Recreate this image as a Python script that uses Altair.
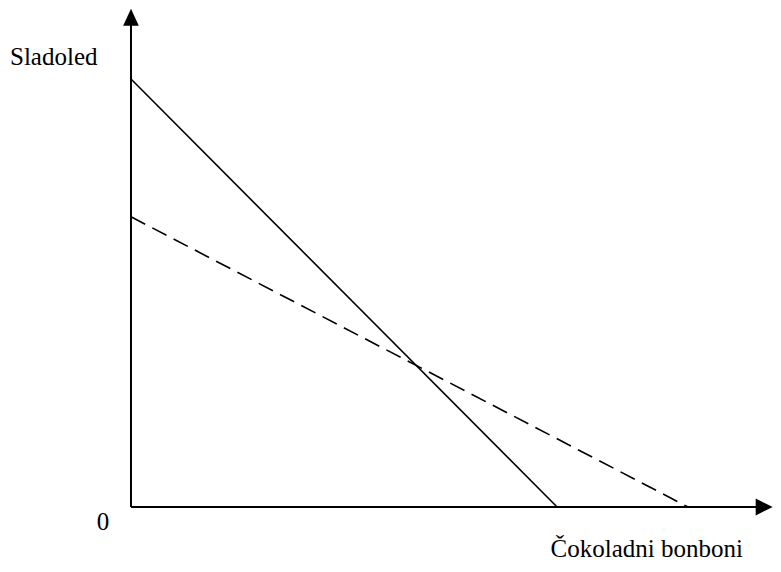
import altair as alt
import pandas as pd

# Budget lines (data units)
solid_x = [0.0, 7.65]
solid_y = [10.0, 0.0]
dashed_x = [0.0, 10.0]
dashed_y = [6.78, 0.0]

# Axis extents (arrow tips)
axis_x_end = 11.52
axis_y_end = 11.64

# Labels
label_text = ["Sladoled", "0", "Čokoladni bonboni"]
label_x = [-2.172, -0.503, 10.987]
label_y = [10.33, -0.537, -1.17]
label_align = ["left", "center", "right"]

FONT = "Liberation Serif"

xs = alt.Scale(domain=[-2.208, 11.526], nice=False, zero=False)
ys = alt.Scale(domain=[-1.332, 11.659], nice=False, zero=False)

solid_df = pd.DataFrame({"x": solid_x, "y": solid_y})
dashed_df = pd.DataFrame({"x": dashed_x, "y": dashed_y})

solid = alt.Chart(solid_df).mark_line(color="black", strokeWidth=1.6).encode(
    x=alt.X("x:Q", scale=xs, axis=None), y=alt.Y("y:Q", scale=ys, axis=None))
dashed = alt.Chart(dashed_df).mark_line(color="black", strokeWidth=1.6, strokeDash=[16, 8]).encode(
    x=alt.X("x:Q", scale=xs, axis=None), y=alt.Y("y:Q", scale=ys, axis=None))

xaxis_df = pd.DataFrame({"x": [0.0], "x2": [axis_x_end - 0.2], "y": [0.0]})
yaxis_df = pd.DataFrame({"x": [0.0], "y": [0.0], "y2": [axis_y_end - 0.2]})

xaxis = alt.Chart(xaxis_df).mark_rule(color="black", strokeWidth=2).encode(
    x=alt.X("x:Q", scale=xs, axis=None), x2="x2:Q", y=alt.Y("y:Q", scale=ys, axis=None))
yaxis = alt.Chart(yaxis_df).mark_rule(color="black", strokeWidth=2).encode(
    x=alt.X("x:Q", scale=xs, axis=None), y=alt.Y("y:Q", scale=ys, axis=None), y2="y2:Q")

xarrow = alt.Chart(pd.DataFrame({"x": [axis_x_end], "y": [0.0]})).mark_point(
    shape="M0,0L-1,-0.5L-1,0.5Z", size=1156, filled=True, color="black", opacity=1, strokeWidth=0
).encode(x=alt.X("x:Q", scale=xs, axis=None), y=alt.Y("y:Q", scale=ys, axis=None))
yarrow = alt.Chart(pd.DataFrame({"x": [0.0], "y": [axis_y_end]})).mark_point(
    shape="M0,0L-0.46,1L0.46,1Z", size=1156, filled=True, color="black", opacity=1, strokeWidth=0
).encode(x=alt.X("x:Q", scale=xs, axis=None), y=alt.Y("y:Q", scale=ys, axis=None))

labels_df = pd.DataFrame({"text": label_text, "x": label_x, "y": label_y, "align": label_align})
text_layers = []
for a in ["left", "center", "right"]:
    text_layers.append(
        alt.Chart(labels_df).transform_filter(alt.datum.align == a).mark_text(
            align=a, baseline="alphabetic", font=FONT, fontSize=25, color="black"
        ).encode(x=alt.X("x:Q", scale=xs, axis=None), y=alt.Y("y:Q", scale=ys, axis=None), text="text:N")
    )

chart = alt.layer(xaxis, yaxis, solid, dashed, xarrow, yarrow, *text_layers).properties(
    width=765, height=556, autosize=alt.AutoSizeParams(type="none"), padding=0, background="white"
).configure_view(stroke=None)

chart.save("out.html", embed_options={"renderer": "svg", "actions": False})
